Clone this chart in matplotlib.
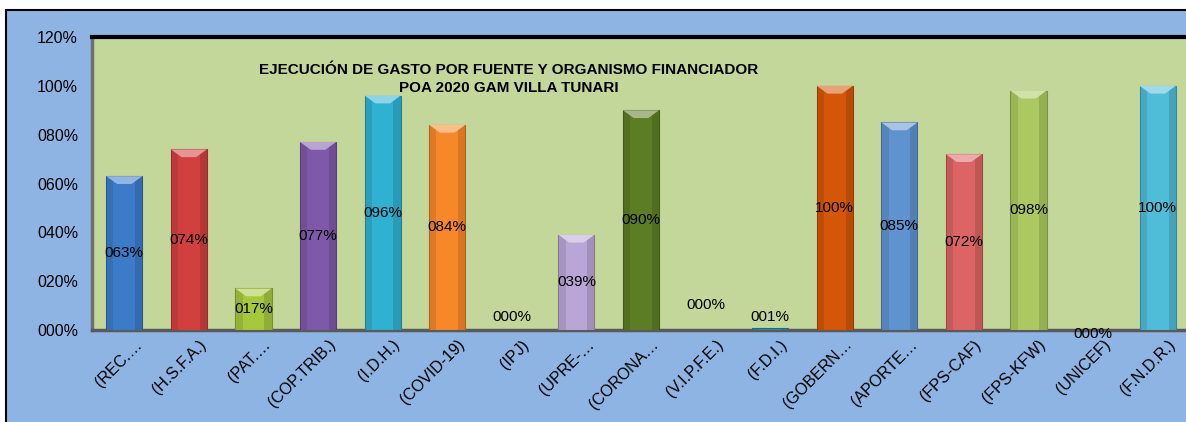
import numpy as np
import matplotlib
matplotlib.use("Agg")
import matplotlib.pyplot as plt
from matplotlib.patches import Rectangle, Polygon
from matplotlib import colors as mcolors
import matplotlib.transforms as mtransforms

plt.rcParams['font.family'] = ['Liberation Sans', 'DejaVu Sans']

### Data ###
categories = ['(REC.…', '(H.S.F.A.)', '(PAT.…', '(COP.TRIB.)', '(I.D.H.)', '(COVID-19)',
              '(IPJ)', '(UPRE-…', '(CORONA…', '(V.I.P.F.E.)', '(F.D.I.)', '(GOBERN…',
              '(APORTE…', '(FPS-CAF)', '(FPS-KFW)', '(UNICEF)', '(F.N.D.R.)']
ejecucion = [0.63, 0.74, 0.17, 0.77, 0.96, 0.84, 0.00, 0.39, 0.90,
             0.00, 0.01, 1.00, 0.85, 0.72, 0.98, 0.00, 1.00]
yticks = [0.0, 0.2, 0.4, 0.6, 0.8, 1.0, 1.2]
title = "EJECUCIÓN DE GASTO POR FUENTE Y ORGANISMO FINANCIADOR\nPOA 2020 GAM VILLA TUNARI"

### Styles ###
bar_colors = ['#3b7bc8', '#d23f3f', '#a6c83c', '#7e59a9', '#2fb2d2', '#f7882a',
              '#888888', '#b9a6d6', '#5d7d25', '#888888', '#2e93a6', '#d45608',
              '#5f93d0', '#dc6464', '#abc960', '#888888', '#4fbcd8']
bg_blue = '#8eb4e3'
plot_green = '#c4d79b'
# label nudges (points) for the odd Excel placements of empty bars
label_nudge = {9: 9, 15: -12}

fig = plt.figure(figsize=(11.86, 4.22), dpi=100)
fig.patch.set_facecolor('white')
fig.patches.append(Rectangle((6/1186, -0.01), 1.0, (422-10)/422 + 0.01,
                             transform=fig.transFigure, facecolor=bg_blue,
                             edgecolor='black', lw=1.5, zorder=-5))

ax = fig.add_axes([92/1186, (422-330)/422, (1190-92)/1186, (330-37)/422])
ax.set_zorder(2)
ax.set_facecolor(plot_green)

x = np.arange(len(categories))
w = 0.56
for i, v in enumerate(ejecucion):
    if v <= 0:
        continue
    base = mcolors.to_rgb(bar_colors[i])
    dark = tuple(c * 0.72 for c in base)
    light = tuple(c + (1 - c) * 0.45 for c in base)
    ax.bar(x[i], v, width=w, color=base, edgecolor=dark, lw=0.8, zorder=3)
    # darker shading at the sides to mimic the bevel
    ax.bar(x[i] - w*0.4, v, width=w*0.2, color=dark, alpha=0.35, lw=0, zorder=3)
    ax.bar(x[i] + w*0.4, v, width=w*0.2, color=dark, alpha=0.45, lw=0, zorder=3)
    if v > 0.05:
        cap = 0.032
        ax.add_patch(Polygon([(x[i]-w/2, v), (x[i]+w/2, v),
                              (x[i]+w/2-w*0.3, v-cap), (x[i]-w/2+w*0.3, v-cap)],
                             closed=True, facecolor=light, edgecolor='none', zorder=4))

for i, v in enumerate(ejecucion):
    ax.annotate(f"{int(round(v*100)):03d}%", (x[i], max(v/2, 0.053)),
                xytext=(0, label_nudge.get(i, 0)), textcoords='offset points',
                ha='center', va='center', fontsize=11, color='black', zorder=6,
                annotation_clip=False)

ax.set_xlim(-0.5, len(categories) - 0.5)
ax.set_ylim(0, 1.2)
ax.set_yticks(yticks)
ax.set_yticklabels([f"{int(round(t*100)):03d}%" for t in yticks], fontsize=11.5)
ax.tick_params(axis='y', length=0, pad=10)
ax.set_xticks(x)
ax.set_xticklabels(categories, rotation=45, ha='right', rotation_mode='anchor', fontsize=11.5)
ax.tick_params(axis='x', length=0, pad=5)
offset = mtransforms.ScaledTranslation(7/72, 0, fig.dpi_scale_trans)
for lbl in ax.get_xticklabels():
    lbl.set_transform(lbl.get_transform() + offset)

ax.spines['top'].set_color('black')
ax.spines['top'].set_linewidth(3)
ax.spines['right'].set_visible(False)
ax.spines['left'].set_color('#6f6f6f')
ax.spines['left'].set_linewidth(2.5)
ax.spines['bottom'].set_color('#5a5a5a')
ax.spines['bottom'].set_linewidth(2.5)

ax.text(509/1186, (422-79)/422, title, transform=fig.transFigure, ha='center', va='center',
        fontsize=11, fontweight='bold', linespacing=1.45, zorder=7)

plt.savefig("out.png", dpi=100, facecolor=fig.get_facecolor())
